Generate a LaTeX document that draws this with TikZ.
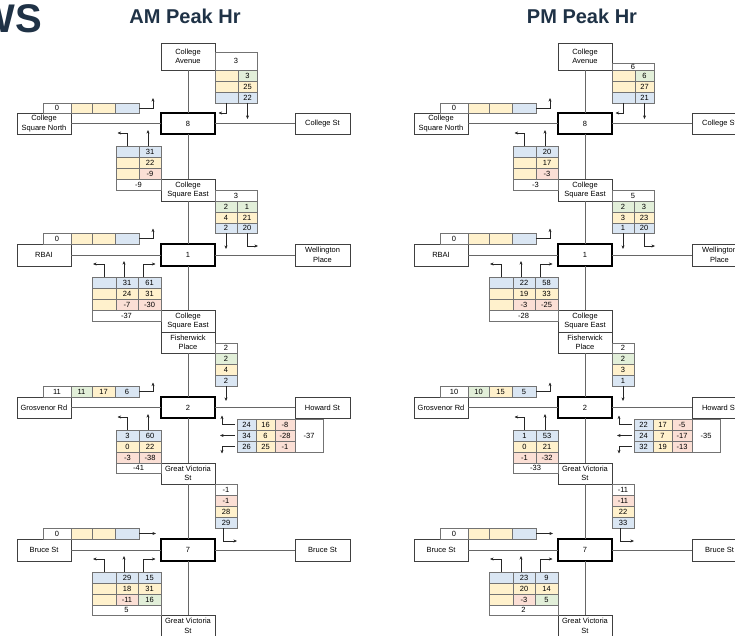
\documentclass[tikz,border=0pt]{standalone}
\usepackage{fontspec}
\setmainfont{Liberation Sans}
\usetikzlibrary{arrows.meta}
\definecolor{navy}{HTML}{1F3246}
\definecolor{cb}{HTML}{DAE6F3}
\definecolor{cy}{HTML}{FFF1CC}
\definecolor{cg}{HTML}{E2EFD9}
\definecolor{cr}{HTML}{FBDFD5}
\newcommand{\lbl}{\fontsize{7.5}{9.5}\selectfont}
\tikzset{
  road/.style={draw=black!75, line width=0.6pt, fill=white, align=center, inner sep=0pt, outer sep=0pt, anchor=north west, font=\lbl},
  junction/.style={road, draw=black, line width=1.4pt},
  cell/.style={draw=black!55, line width=0.45pt, inner sep=0pt, outer sep=0pt, anchor=north west, font=\lbl},
  link/.style={draw=black!60, line width=0.7pt},
  flow/.style={->, line width=0.5pt, black!85},
  title/.style={font=\fontsize{20}{22}\selectfont\bfseries, text=navy, inner sep=0pt}
}
% one row of table cells: name, x, y, height, {width/colour/text, ...}
\newcommand{\trow}[5]{%
  \xdef\cellx{#2}%
  \foreach \w/\col/\txt [count=\i] in {#5}{%
    \node[cell, fill=\col, minimum width=\w, minimum height=#4] (#1-\i) at (\cellx,#3) {\txt};
    \pgfmathsetmacro{\nextx}{\cellx+\w}%
    \xdef\cellx{\nextx}%
  }%
}
\begin{document}
\begin{tikzpicture}[x=1pt, y=-1pt, >={Stealth[length=3.6pt,width=3pt]}]
\clip (0,0) rectangle (735,636);
\node[anchor=base east, inner sep=0pt, font=\fontsize{40}{40}\selectfont\bfseries, text=navy] (ws) at (42,33) {WS};

% streets and junctions, same layout for both peaks
\foreach \p/\dx/\ttl in {am/0/AM Peak Hr, pm/397/PM Peak Hr}{
\begin{scope}[xshift=\dx]
\node[title] (\p-title) at (185,16) {\ttl};
\node[road, minimum width=54, minimum height=27] (\p-ca) at (161,43) {College\\Avenue};
\node[junction, minimum width=54, minimum height=21] (\p-j8) at (161,113) {8};
\node[road, minimum width=54, minimum height=21] (\p-csn) at (17,113) {College\\Square North};
\node[road, minimum width=55, minimum height=21] (\p-cst) at (295,113) {College St};
\node[road, minimum width=54, minimum height=22] (\p-cse) at (161,179) {College\\Square East};
\node[junction, minimum width=54, minimum height=22] (\p-j1) at (161,244) {1};
\node[road, minimum width=54, minimum height=22] (\p-rbai) at (17,244) {RBAI};
\node[road, minimum width=55, minimum height=22] (\p-wp) at (295,244) {Wellington\\Place};
\node[road, minimum width=54, minimum height=22] (\p-cse2) at (161,310) {College\\Square East};
\node[road, minimum width=54, minimum height=21] (\p-fp) at (161,332) {Fisherwick\\Place};
\node[junction, minimum width=54, minimum height=21] (\p-j2) at (161,397) {2};
\node[road, minimum width=54, minimum height=21] (\p-gr) at (17,397) {Grosvenor Rd};
\node[road, minimum width=55, minimum height=21] (\p-hs) at (295,397) {Howard St};
\node[road, minimum width=54, minimum height=21] (\p-gvs) at (161,463) {Great Victoria\\St};
\node[junction, minimum width=54, minimum height=22] (\p-j7) at (161,539) {7};
\node[road, minimum width=54, minimum height=22] (\p-bsw) at (17,539) {Bruce St};
\node[road, minimum width=55, minimum height=22] (\p-bse) at (295,539) {Bruce St};
\node[road, minimum width=54, minimum height=22] (\p-gvs2) at (161,615) {Great Victoria\\St};
\draw[link] (\p-ca) -- (\p-j8) -- (\p-cse) -- (\p-j1) -- (\p-cse2);
\draw[link] (\p-fp) -- (\p-j2) -- (\p-gvs) -- (\p-j7) -- (\p-gvs2);
\draw[link] (\p-csn) -- (\p-j8) -- (\p-cst);
\draw[link] (\p-rbai) -- (\p-j1) -- (\p-wp);
\draw[link] (\p-gr) -- (\p-j2) -- (\p-hs);
\draw[link] (\p-bsw) -- (\p-j7) -- (\p-bse);
\end{scope}}

% AM flows
\trow{am-ca0}{215}{52}{18}{42/white/3}
\trow{am-ca1}{215}{70}{11}{23/cy/{}, 19/cg/3}
\trow{am-ca2}{215}{81}{11}{23/cy/{}, 19/cy/25}
\trow{am-ca3}{215}{92}{11}{23/cb/{}, 19/cb/22}
\trow{am-w8}{43}{103}{10}{28/white/0, 21/cy/{}, 23/cy/{}, 24/cb/{}}
\trow{am-cn1}{116}{146}{11}{23/cb/{}, 22/cb/31}
\trow{am-cn2}{116}{157}{11}{23/cy/{}, 22/cy/22}
\trow{am-cn3}{116}{168}{11}{23/cy/{}, 22/cr/-9}
\trow{am-cn4}{116}{179}{11}{45/white/-9}
\trow{am-ce0}{215}{190}{11}{42/white/3}
\trow{am-ce1}{215}{201}{11}{22/cg/2, 20/cg/1}
\trow{am-ce2}{215}{212}{11}{22/cy/4, 20/cy/21}
\trow{am-ce3}{215}{223}{10}{22/cb/2, 20/cb/20}
\trow{am-w1}{43}{233}{11}{28/white/0, 21/cy/{}, 23/cy/{}, 24/cb/{}}
\trow{am-rb1}{92}{277}{11}{24/cb/{}, 22/cb/31, 23/cb/61}
\trow{am-rb2}{92}{288}{11}{24/cy/{}, 22/cy/24, 23/cy/31}
\trow{am-rb3}{92}{299}{11}{24/cy/{}, 22/cr/-7, 23/cr/-30}
\trow{am-rb4}{92}{310}{11}{69/white/-37}
\trow{am-fp0}{215}{343}{10}{22/white/2}
\trow{am-fp1}{215}{353}{11}{22/cg/2}
\trow{am-fp2}{215}{364}{11}{22/cy/4}
\trow{am-fp3}{215}{375}{11}{22/cb/2}
\trow{am-w2}{43}{386}{11}{28/white/11, 21/cg/11, 23/cy/17, 24/cb/6}
\trow{am-hw1}{237}{419}{11}{19/cb/24, 19/cy/16, 20/cr/-8}
\trow{am-hw2}{237}{430}{11}{19/cb/34, 19/cy/6, 20/cr/-28}
\trow{am-hw3}{237}{441}{11}{19/cb/26, 19/cy/25, 20/cr/-1}
\trow{am-hw0}{295}{419}{33}{28/white/-37}
\trow{am-gs1}{116}{430}{11}{23/cb/3, 22/cb/60}
\trow{am-gs2}{116}{441}{11}{23/cy/0, 22/cy/22}
\trow{am-gs3}{116}{452}{11}{23/cr/-3, 22/cr/-38}
\trow{am-gs4}{116}{463}{10}{45/white/-41}
\trow{am-gv0}{215}{484}{11}{22/white/-1}
\trow{am-gv1}{215}{495}{11}{22/cr/-1}
\trow{am-gv2}{215}{506}{11}{22/cy/28}
\trow{am-gv3}{215}{517}{11}{22/cb/29}
\trow{am-w7}{43}{528}{11}{28/white/0, 21/cy/{}, 23/cy/{}, 24/cb/{}}
\trow{am-bs1}{92}{572}{11}{24/cb/{}, 22/cb/29, 23/cb/15}
\trow{am-bs2}{92}{583}{11}{24/cy/{}, 22/cy/18, 23/cy/31}
\trow{am-bs3}{92}{594}{11}{24/cy/{}, 22/cr/-11, 23/cg/16}
\trow{am-bs4}{92}{605}{10}{69/white/5}

% PM flows
\begin{scope}[xshift=397]
\trow{pm-ca0}{215}{63}{7}{42/white/6}
\trow{pm-ca1}{215}{70}{11}{23/cy/{}, 19/cg/6}
\trow{pm-ca2}{215}{81}{11}{23/cy/{}, 19/cy/27}
\trow{pm-ca3}{215}{92}{11}{23/cb/{}, 19/cb/21}
\trow{pm-w8}{43}{103}{10}{28/white/0, 21/cy/{}, 23/cy/{}, 24/cb/{}}
\trow{pm-cn1}{116}{146}{11}{23/cb/{}, 22/cb/20}
\trow{pm-cn2}{116}{157}{11}{23/cy/{}, 22/cy/17}
\trow{pm-cn3}{116}{168}{11}{23/cy/{}, 22/cr/-3}
\trow{pm-cn4}{116}{179}{11}{45/white/-3}
\trow{pm-ce0}{215}{190}{11}{42/white/5}
\trow{pm-ce1}{215}{201}{11}{22/cg/2, 20/cg/3}
\trow{pm-ce2}{215}{212}{11}{22/cy/3, 20/cy/23}
\trow{pm-ce3}{215}{223}{10}{22/cb/1, 20/cb/20}
\trow{pm-w1}{43}{233}{11}{28/white/0, 21/cy/{}, 23/cy/{}, 24/cb/{}}
\trow{pm-rb1}{92}{277}{11}{24/cb/{}, 22/cb/22, 23/cb/58}
\trow{pm-rb2}{92}{288}{11}{24/cy/{}, 22/cy/19, 23/cy/33}
\trow{pm-rb3}{92}{299}{11}{24/cy/{}, 22/cr/-3, 23/cr/-25}
\trow{pm-rb4}{92}{310}{11}{69/white/-28}
\trow{pm-fp0}{215}{343}{10}{22/white/2}
\trow{pm-fp1}{215}{353}{11}{22/cg/2}
\trow{pm-fp2}{215}{364}{11}{22/cy/3}
\trow{pm-fp3}{215}{375}{11}{22/cb/1}
\trow{pm-w2}{43}{386}{11}{28/white/10, 21/cg/10, 23/cy/15, 24/cb/5}
\trow{pm-hw1}{237}{419}{11}{19/cb/22, 19/cy/17, 20/cr/-5}
\trow{pm-hw2}{237}{430}{11}{19/cb/24, 19/cy/7, 20/cr/-17}
\trow{pm-hw3}{237}{441}{11}{19/cb/32, 19/cy/19, 20/cr/-13}
\trow{pm-hw0}{295}{419}{33}{28/white/-35}
\trow{pm-gs1}{116}{430}{11}{23/cb/1, 22/cb/53}
\trow{pm-gs2}{116}{441}{11}{23/cy/0, 22/cy/21}
\trow{pm-gs3}{116}{452}{11}{23/cr/-1, 22/cr/-32}
\trow{pm-gs4}{116}{463}{10}{45/white/-33}
\trow{pm-gv0}{215}{484}{11}{22/white/-11}
\trow{pm-gv1}{215}{495}{11}{22/cr/-11}
\trow{pm-gv2}{215}{506}{11}{22/cy/22}
\trow{pm-gv3}{215}{517}{11}{22/cb/33}
\trow{pm-w7}{43}{528}{11}{28/white/0, 21/cy/{}, 23/cy/{}, 24/cb/{}}
\trow{pm-bs1}{92}{572}{11}{24/cb/{}, 22/cb/23, 23/cb/9}
\trow{pm-bs2}{92}{583}{11}{24/cy/{}, 22/cy/20, 23/cy/14}
\trow{pm-bs3}{92}{594}{11}{24/cy/{}, 22/cr/-3, 23/cg/5}
\trow{pm-bs4}{92}{605}{10}{69/white/2}
\end{scope}

% turning arrows
\foreach \p in {am,pm}{
\draw[flow] (\p-ca3-1.south) -- ++(0,10) -- ++(-8,0);
\draw[flow] (\p-ca3-2.south) -- ++(0,16);
\draw[flow] (\p-w8-4.east) -- ++(14,0) -- ++(0,-10);
\draw[flow] (\p-cn1-1.north) -- ++(0,-13) -- ++(-10,0);
\draw[flow] ([xshift=-2]\p-cn1-2.north) -- ++(0,-16);
\draw[flow] (\p-ce3-1.south) -- ++(0,16);
\draw[flow] (\p-ce3-2.south) -- ++(0,13) -- ++(11,0);
\draw[flow] (\p-w1-4.east) -- ++(14,0) -- ++(0,-10);
\draw[flow] (\p-rb1-1.north) -- ++(0,-13) -- ++(-11,0);
\draw[flow] ([xshift=-3]\p-rb1-2.north) -- ++(0,-16);
\draw[flow] ([xshift=-6]\p-rb1-3.north) -- ++(0,-13) -- ++(12,0);
\draw[flow] (\p-fp3-1.south) -- ++(0,15);
\draw[flow] (\p-w2-4.east) -- ++(14,0) -- ++(0,-9);
\draw[flow] ([xshift=-2]\p-hw1-1.west) -- ++(-13,0) -- ++(0,-9);
\draw[flow] ([xshift=-2]\p-hw2-1.west) -- ++(-15,0);
\draw[flow] ([xshift=-2]\p-hw3-1.west) -- ++(-13,0) -- ++(0,7);
\draw[flow] (\p-gs1-1.north) -- ++(0,-13) -- ++(-10,0);
\draw[flow] ([xshift=-2]\p-gs1-2.north) -- ++(0,-16);
\draw[flow] ([xshift=-3]\p-gv3-1.south) -- ++(0,13) -- ++(14,0);
\draw[flow] (\p-w7-4.east) -- ++(17,0);
\draw[flow] (\p-bs1-1.north) -- ++(0,-13) -- ++(-11,0);
\draw[flow] ([xshift=-3]\p-bs1-2.north) -- ++(0,-16);
\draw[flow] ([xshift=-6]\p-bs1-3.north) -- ++(0,-13) -- ++(12,0);
}
\end{tikzpicture}
\end{document}
